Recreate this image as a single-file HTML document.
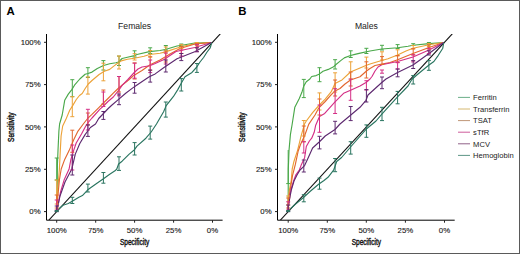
<!DOCTYPE html>
<html><head><meta charset="utf-8"><style>
html,body{margin:0;padding:0;background:#fff;width:520px;height:254px;overflow:hidden}
svg{display:block}
text{font-family:"Liberation Sans", sans-serif}
.t{font-size:7.8px;fill:#1a1a1a;stroke:#1a1a1a;stroke-width:0.12px}
.ti{font-size:9.4px;fill:#222}
.ax{font-size:8.9px;fill:#111;stroke:#111;stroke-width:0.4px}
.lab{font-size:11.4px;font-weight:bold;fill:#000}
.lg{font-size:7.6px;fill:#222}
</style></head><body>
<svg width="520" height="254" viewBox="0 0 520 254">
<rect x="0" y="0" width="520" height="254" fill="#fff"/>
<text x="6.6" y="14.7" class="lab">A</text>
<text x="238.2" y="14.7" class="lab">B</text>
<clipPath id="c46"><rect x="46.5" y="34" width="176.1" height="186"/></clipPath>
<g clip-path="url(#c46)">
<line x1="48.9" y1="220.1" x2="220.3" y2="33.8" stroke="#111" stroke-width="1.05"/>
<polyline points="56.7,211.6 57.0,200.0 57.3,178.0 57.4,165.0 58.0,150.6 58.9,131.0 59.6,124.0 62.2,115.0 64.7,100.3 68.3,94.1 71.8,89.6 74.5,85.2 79.8,79.0 85.1,74.3 88.0,73.5 92.0,72.1 97.3,68.5 103.5,65.5 109.7,63.8 115.9,62.7 118.6,62.0 122.1,58.5 127.4,57.2 134.5,55.6 137.0,54.5 149.4,51.6 160.0,50.5 165.3,49.5 177.0,46.0 182.0,45.3 194.7,43.0 211.5,42.5" fill="none" stroke="#4aa84a" stroke-width="1.15" stroke-linejoin="round"/>
<polyline points="56.7,211.6 57.0,204.4 58.0,186.7 59.4,169.0 60.3,150.6 61.1,136.0 62.7,126.0 65.8,119.6 69.7,110.2 72.7,105.6 76.3,99.5 79.5,95.5 82.2,93.5 85.2,88.5 88.3,84.0 92.0,80.5 99.1,74.5 104.4,71.2 109.7,69.4 114.1,65.9 118.6,62.5 122.1,60.6 127.4,59.2 134.5,58.2 144.0,56.2 149.7,54.5 160.0,53.2 165.3,51.9 182.0,46.5 194.7,43.8 211.5,42.5" fill="none" stroke="#eca238" stroke-width="1.15" stroke-linejoin="round"/>
<polyline points="56.7,211.6 57.5,200.0 59.4,180.0 61.2,169.0 64.7,159.4 69.1,150.6 73.6,140.0 78.0,131.1 83.3,124.0 88.0,118.0 92.0,114.4 99.1,107.3 104.4,102.0 108.0,98.5 113.3,93.2 118.6,88.0 124.8,83.0 129.2,79.5 133.8,75.4 142.0,70.5 149.7,65.0 160.0,60.0 170.0,54.0 180.0,48.5 195.0,44.0 211.5,42.5" fill="none" stroke="#e2672f" stroke-width="1.15" stroke-linejoin="round"/>
<polyline points="56.7,211.6 60.6,191.7 64.3,179.4 69.1,169.0 70.9,159.4 73.6,150.6 76.2,143.0 81.5,134.0 85.5,126.5 88.2,122.5 92.0,118.0 100.0,109.1 103.5,106.0 108.0,101.5 113.3,97.0 118.6,90.3 122.1,85.4 127.9,79.5 133.8,73.0 138.0,69.0 142.0,67.0 149.7,65.8 155.2,63.5 164.0,59.5 176.0,51.5 194.7,47.5 211.5,42.5" fill="none" stroke="#d42f86" stroke-width="1.15" stroke-linejoin="round"/>
<polyline points="56.7,211.6 60.0,196.0 65.0,182.0 71.8,169.0 75.3,154.1 79.8,143.5 85.1,134.6 90.4,127.5 95.5,124.0 98.7,118.5 103.5,113.5 108.2,108.5 112.0,105.0 118.6,99.4 125.7,93.2 132.8,87.9 137.0,85.0 145.9,79.0 149.7,76.6 155.2,73.9 164.0,67.5 177.0,58.8 194.7,51.7 211.5,42.5" fill="none" stroke="#5e2a70" stroke-width="1.15" stroke-linejoin="round"/>
<polyline points="56.7,211.6 57.0,210.6 63.0,205.3 68.3,203.5 72.7,200.9 78.9,197.3 82.4,195.6 87.8,189.8 92.0,186.8 99.1,181.8 103.5,178.7 109.7,174.3 115.0,170.8 116.8,169.0 118.6,164.0 122.1,161.2 129.2,154.1 134.5,149.7 137.0,146.1 145.9,138.2 151.2,132.0 156.5,124.0 163.6,111.8 166.2,105.6 173.3,96.7 177.8,89.6 181.4,83.0 185.0,76.8 192.0,72.4 196.8,67.0 200.0,62.0 203.6,57.5 206.7,52.5 210.2,47.8 211.5,43.5 211.5,42.5" fill="none" stroke="#2a7560" stroke-width="1.15" stroke-linejoin="round"/>
<path d="M56.7,158.0V180.0M54.7,158.0H58.7M54.7,180.0H58.7" stroke="#4aa84a" stroke-width="1.0" fill="none"/>
<path d="M72.3,79.7V96.7M70.3,79.7H74.3M70.3,96.7H74.3" stroke="#4aa84a" stroke-width="1.0" fill="none"/>
<path d="M87.9,67.7V77.5M85.9,67.7H89.9M85.9,77.5H89.9" stroke="#4aa84a" stroke-width="1.0" fill="none"/>
<path d="M103.4,60.6V70.0M101.4,60.6H105.4M101.4,70.0H105.4" stroke="#4aa84a" stroke-width="1.0" fill="none"/>
<path d="M119.0,56.1V65.5M117.0,56.1H121.0M117.0,65.5H121.0" stroke="#4aa84a" stroke-width="1.0" fill="none"/>
<path d="M134.6,50.8V57.0M132.6,50.8H136.6M132.6,57.0H136.6" stroke="#4aa84a" stroke-width="1.0" fill="none"/>
<path d="M150.2,47.8V53.5M148.2,47.8H152.2M148.2,53.5H152.2" stroke="#4aa84a" stroke-width="1.0" fill="none"/>
<path d="M165.8,45.5V50.0M163.8,45.5H167.8M163.8,50.0H167.8" stroke="#4aa84a" stroke-width="1.0" fill="none"/>
<path d="M181.3,44.0V46.5M179.3,44.0H183.3M179.3,46.5H183.3" stroke="#4aa84a" stroke-width="1.0" fill="none"/>
<path d="M196.9,42.5V44.5M194.9,42.5H198.9M194.9,44.5H198.9" stroke="#4aa84a" stroke-width="1.0" fill="none"/>
<path d="M56.7,180.0V204.0M54.7,180.0H58.7M54.7,204.0H58.7" stroke="#eca238" stroke-width="1.0" fill="none"/>
<path d="M72.3,96.7V116.7M70.3,96.7H74.3M70.3,116.7H74.3" stroke="#eca238" stroke-width="1.0" fill="none"/>
<path d="M87.9,76.9V94.1M85.9,76.9H89.9M85.9,94.1H89.9" stroke="#eca238" stroke-width="1.0" fill="none"/>
<path d="M103.4,63.2V80.8M101.4,63.2H105.4M101.4,80.8H105.4" stroke="#eca238" stroke-width="1.0" fill="none"/>
<path d="M119.0,56.0V69.0M117.0,56.0H121.0M117.0,69.0H121.0" stroke="#eca238" stroke-width="1.0" fill="none"/>
<path d="M134.6,53.7V60.0M132.6,53.7H136.6M132.6,60.0H136.6" stroke="#eca238" stroke-width="1.0" fill="none"/>
<path d="M150.2,50.5V57.0M148.2,50.5H152.2M148.2,57.0H152.2" stroke="#eca238" stroke-width="1.0" fill="none"/>
<path d="M165.8,47.0V53.0M163.8,47.0H167.8M163.8,53.0H167.8" stroke="#eca238" stroke-width="1.0" fill="none"/>
<path d="M181.3,44.6V48.5M179.3,44.6H183.3M179.3,48.5H183.3" stroke="#eca238" stroke-width="1.0" fill="none"/>
<path d="M196.9,42.5V45.5M194.9,42.5H198.9M194.9,45.5H198.9" stroke="#eca238" stroke-width="1.0" fill="none"/>
<path d="M56.7,195.0V208.0M54.7,195.0H58.7M54.7,208.0H58.7" stroke="#e2672f" stroke-width="1.0" fill="none"/>
<path d="M72.3,130.2V152.3M70.3,130.2H74.3M70.3,152.3H74.3" stroke="#e2672f" stroke-width="1.0" fill="none"/>
<path d="M87.9,113.0V125.0M85.9,113.0H89.9M85.9,125.0H89.9" stroke="#e2672f" stroke-width="1.0" fill="none"/>
<path d="M103.4,90.0V104.0M101.4,90.0H105.4M101.4,104.0H105.4" stroke="#e2672f" stroke-width="1.0" fill="none"/>
<path d="M119.0,76.5V92.0M117.0,76.5H121.0M117.0,92.0H121.0" stroke="#e2672f" stroke-width="1.0" fill="none"/>
<path d="M134.6,62.9V79.0M132.6,62.9H136.6M132.6,79.0H136.6" stroke="#e2672f" stroke-width="1.0" fill="none"/>
<path d="M150.2,56.8V70.3M148.2,56.8H152.2M148.2,70.3H152.2" stroke="#e2672f" stroke-width="1.0" fill="none"/>
<path d="M165.8,51.0V62.0M163.8,51.0H167.8M163.8,62.0H167.8" stroke="#e2672f" stroke-width="1.0" fill="none"/>
<path d="M181.3,46.5V53.5M179.3,46.5H183.3M179.3,53.5H183.3" stroke="#e2672f" stroke-width="1.0" fill="none"/>
<path d="M196.9,43.5V47.8M194.9,43.5H198.9M194.9,47.8H198.9" stroke="#e2672f" stroke-width="1.0" fill="none"/>
<path d="M56.7,200.0V210.0M54.7,200.0H58.7M54.7,210.0H58.7" stroke="#d42f86" stroke-width="1.0" fill="none"/>
<path d="M72.3,145.0V170.0M70.3,145.0H74.3M70.3,170.0H74.3" stroke="#d42f86" stroke-width="1.0" fill="none"/>
<path d="M87.9,109.3V130.0M85.9,109.3H89.9M85.9,130.0H89.9" stroke="#d42f86" stroke-width="1.0" fill="none"/>
<path d="M103.4,92.0V106.5M101.4,92.0H105.4M101.4,106.5H105.4" stroke="#d42f86" stroke-width="1.0" fill="none"/>
<path d="M119.0,76.5V95.8M117.0,76.5H121.0M117.0,95.8H121.0" stroke="#d42f86" stroke-width="1.0" fill="none"/>
<path d="M134.6,63.2V78.2M132.6,63.2H136.6M132.6,78.2H136.6" stroke="#d42f86" stroke-width="1.0" fill="none"/>
<path d="M150.2,60.0V72.6M148.2,60.0H152.2M148.2,72.6H152.2" stroke="#d42f86" stroke-width="1.0" fill="none"/>
<path d="M165.8,53.0V64.0M163.8,53.0H167.8M163.8,64.0H167.8" stroke="#d42f86" stroke-width="1.0" fill="none"/>
<path d="M181.3,50.0V56.1M179.3,50.0H183.3M179.3,56.1H183.3" stroke="#d42f86" stroke-width="1.0" fill="none"/>
<path d="M196.9,44.6V51.7M194.9,44.6H198.9M194.9,51.7H198.9" stroke="#d42f86" stroke-width="1.0" fill="none"/>
<path d="M56.7,206.0V211.6M54.7,206.0H58.7M54.7,211.6H58.7" stroke="#5e2a70" stroke-width="1.0" fill="none"/>
<path d="M72.3,155.0V175.0M70.3,155.0H74.3M70.3,175.0H74.3" stroke="#5e2a70" stroke-width="1.0" fill="none"/>
<path d="M87.9,124.9V136.4M85.9,124.9H89.9M85.9,136.4H89.9" stroke="#5e2a70" stroke-width="1.0" fill="none"/>
<path d="M103.4,111.5V119.4M101.4,111.5H105.4M101.4,119.4H105.4" stroke="#5e2a70" stroke-width="1.0" fill="none"/>
<path d="M119.0,94.0V104.7M117.0,94.0H121.0M117.0,104.7H121.0" stroke="#5e2a70" stroke-width="1.0" fill="none"/>
<path d="M134.6,82.5V93.2M132.6,82.5H136.6M132.6,93.2H136.6" stroke="#5e2a70" stroke-width="1.0" fill="none"/>
<path d="M150.2,70.0V82.1M148.2,70.0H152.2M148.2,82.1H152.2" stroke="#5e2a70" stroke-width="1.0" fill="none"/>
<path d="M165.8,60.0V72.0M163.8,60.0H167.8M163.8,72.0H167.8" stroke="#5e2a70" stroke-width="1.0" fill="none"/>
<path d="M181.3,53.5V60.6M179.3,53.5H183.3M179.3,60.6H183.3" stroke="#5e2a70" stroke-width="1.0" fill="none"/>
<path d="M196.9,47.8V51.7M194.9,47.8H198.9M194.9,51.7H198.9" stroke="#5e2a70" stroke-width="1.0" fill="none"/>
<path d="M56.7,210.5V211.6M54.7,210.5H58.7M54.7,211.6H58.7" stroke="#2a7560" stroke-width="1.0" fill="none"/>
<path d="M72.3,197.3V203.5M70.3,197.3H74.3M70.3,203.5H74.3" stroke="#2a7560" stroke-width="1.0" fill="none"/>
<path d="M87.9,184.1V192.0M85.9,184.1H89.9M85.9,192.0H89.9" stroke="#2a7560" stroke-width="1.0" fill="none"/>
<path d="M103.4,172.5V183.2M101.4,172.5H105.4M101.4,183.2H105.4" stroke="#2a7560" stroke-width="1.0" fill="none"/>
<path d="M119.0,156.8V170.4M117.0,156.8H121.0M117.0,170.4H121.0" stroke="#2a7560" stroke-width="1.0" fill="none"/>
<path d="M134.6,142.6V155.0M132.6,142.6H136.6M132.6,155.0H136.6" stroke="#2a7560" stroke-width="1.0" fill="none"/>
<path d="M150.2,126.1V139.1M148.2,126.1H152.2M148.2,139.1H152.2" stroke="#2a7560" stroke-width="1.0" fill="none"/>
<path d="M165.8,102.0V117.1M163.8,102.0H167.8M163.8,117.1H167.8" stroke="#2a7560" stroke-width="1.0" fill="none"/>
<path d="M181.3,78.6V91.0M179.3,78.6H183.3M179.3,91.0H183.3" stroke="#2a7560" stroke-width="1.0" fill="none"/>
<path d="M196.9,63.5V72.4M194.9,63.5H198.9M194.9,72.4H198.9" stroke="#2a7560" stroke-width="1.0" fill="none"/>
</g>
<path d="M46.5,34V220.2H222.6" stroke="#000" stroke-width="1" fill="none"/>
<line x1="44.0" y1="42.3" x2="46.5" y2="42.3" stroke="#222" stroke-width="1"/>
<text x="40.6" y="44.9" text-anchor="end" class="t">100%</text>
<line x1="56.7" y1="220.2" x2="56.7" y2="222.7" stroke="#222" stroke-width="1"/>
<text x="56.7" y="232.6" text-anchor="middle" class="t">100%</text>
<line x1="44.0" y1="84.6" x2="46.5" y2="84.6" stroke="#222" stroke-width="1"/>
<text x="40.6" y="87.2" text-anchor="end" class="t">75%</text>
<line x1="95.7" y1="220.2" x2="95.7" y2="222.7" stroke="#222" stroke-width="1"/>
<text x="95.7" y="232.6" text-anchor="middle" class="t">75%</text>
<line x1="44.0" y1="126.9" x2="46.5" y2="126.9" stroke="#222" stroke-width="1"/>
<text x="40.6" y="129.5" text-anchor="end" class="t">50%</text>
<line x1="134.6" y1="220.2" x2="134.6" y2="222.7" stroke="#222" stroke-width="1"/>
<text x="134.6" y="232.6" text-anchor="middle" class="t">50%</text>
<line x1="44.0" y1="169.3" x2="46.5" y2="169.3" stroke="#222" stroke-width="1"/>
<text x="40.6" y="171.9" text-anchor="end" class="t">25%</text>
<line x1="173.6" y1="220.2" x2="173.6" y2="222.7" stroke="#222" stroke-width="1"/>
<text x="173.6" y="232.6" text-anchor="middle" class="t">25%</text>
<line x1="44.0" y1="211.6" x2="46.5" y2="211.6" stroke="#222" stroke-width="1"/>
<text x="40.6" y="214.2" text-anchor="end" class="t">0%</text>
<line x1="212.5" y1="220.2" x2="212.5" y2="222.7" stroke="#222" stroke-width="1"/>
<text x="212.5" y="232.6" text-anchor="middle" class="t">0%</text>
<text x="0" y="0" transform="translate(134.6,28.5) scale(0.92,1)" text-anchor="middle" class="ti">Females</text>
<text x="0" y="0" transform="translate(134.6,245.4) scale(0.735,1)" text-anchor="middle" class="ax">Specificity</text>
<text x="0" y="0" transform="translate(14.2,127.2) rotate(-90) scale(0.735,1)" text-anchor="middle" class="ax">Sensitivity</text>
<clipPath id="c277"><rect x="277.5" y="34" width="177.2" height="186"/></clipPath>
<g clip-path="url(#c277)">
<line x1="280.4" y1="220.1" x2="452.3" y2="33.8" stroke="#111" stroke-width="1.05"/>
<polyline points="288.2,211.6 288.2,200.0 288.3,169.0 289.0,150.6 290.4,134.6 292.2,124.0 294.8,107.3 299.3,98.5 301.9,92.3 303.7,86.1 306.3,81.7 309.9,79.0 311.7,76.5 316.1,75.6 319.6,73.9 323.0,71.2 328.3,69.4 333.6,66.8 335.4,65.0 340.7,60.6 344.3,57.9 350.5,55.5 354.9,54.4 360.2,53.1 370.0,51.0 381.8,49.0 397.6,47.8 408.0,46.3 413.0,45.2 429.0,43.6 443.7,42.5" fill="none" stroke="#4aa84a" stroke-width="1.15" stroke-linejoin="round"/>
<polyline points="288.2,211.6 288.2,205.0 289.0,192.0 291.3,180.0 292.2,169.0 294.0,161.2 297.5,150.6 301.0,136.4 304.5,124.0 306.3,121.0 312.6,112.6 318.9,105.5 325.2,99.2 331.5,91.3 335.0,83.5 342.0,79.9 350.5,72.0 360.0,68.0 366.5,65.2 370.0,64.0 380.0,61.0 388.0,58.8 397.6,55.0 406.0,51.0 413.0,48.2 429.0,44.8 443.7,42.5" fill="none" stroke="#eca238" stroke-width="1.15" stroke-linejoin="round"/>
<polyline points="288.2,211.6 289.0,197.3 291.3,183.2 292.5,175.6 295.4,164.2 298.2,151.0 300.5,144.5 304.7,135.5 308.7,124.4 315.0,115.0 318.9,107.8 325.2,101.5 331.5,94.4 335.0,91.0 340.0,88.5 345.0,84.0 350.5,80.0 360.0,76.8 366.5,71.0 370.0,68.5 375.0,65.5 381.8,64.1 390.0,62.5 397.6,59.7 413.0,53.5 429.0,47.5 443.7,42.5" fill="none" stroke="#e2672f" stroke-width="1.15" stroke-linejoin="round"/>
<polyline points="288.2,211.6 288.5,205.0 290.0,195.0 291.3,188.5 294.0,179.6 295.7,175.2 299.3,170.0 301.0,165.6 304.6,157.7 306.3,146.5 309.4,141.0 311.7,138.2 314.2,132.3 315.7,125.2 319.5,116.5 324.7,113.4 329.4,108.1 334.8,102.2 339.5,97.4 343.6,93.3 350.0,90.4 360.0,86.0 366.0,82.5 370.0,79.0 372.0,76.5 375.0,71.0 378.0,67.0 381.8,64.8 397.6,61.5 413.0,57.0 429.0,50.0 443.7,42.5" fill="none" stroke="#d42f86" stroke-width="1.15" stroke-linejoin="round"/>
<polyline points="288.2,211.6 288.5,205.0 291.3,190.0 294.0,181.0 297.0,175.0 300.0,170.0 304.6,165.6 308.1,158.0 312.6,148.0 319.2,142.0 325.2,136.0 335.0,129.5 340.0,124.0 350.5,115.3 360.0,107.3 366.0,100.3 368.0,95.0 381.8,82.5 386.0,79.0 397.6,72.5 413.0,65.0 429.0,53.5 443.7,42.5" fill="none" stroke="#5e2a70" stroke-width="1.15" stroke-linejoin="round"/>
<polyline points="288.2,211.6 288.7,210.4 295.0,204.5 302.9,198.0 310.0,191.5 318.6,184.3 324.0,180.5 328.0,177.3 333.6,170.2 336.7,161.5 341.6,157.5 351.0,146.5 366.0,129.3 376.0,121.0 382.3,113.6 397.3,97.2 408.0,86.0 411.8,79.5 417.1,74.8 429.0,65.0 433.9,61.5 438.3,55.3 442.8,48.2 443.7,42.5" fill="none" stroke="#2a7560" stroke-width="1.15" stroke-linejoin="round"/>
<path d="M288.2,150.0V183.6M286.2,183.6H290.2" stroke="#4aa84a" stroke-width="1.0" fill="none"/>
<path d="M303.8,79.4V97.6M301.8,79.4H305.8M301.8,97.6H305.8" stroke="#4aa84a" stroke-width="1.0" fill="none"/>
<path d="M319.5,67.7V81.7M317.5,67.7H321.5M317.5,81.7H321.5" stroke="#4aa84a" stroke-width="1.0" fill="none"/>
<path d="M335.1,59.7V69.0M333.1,59.7H337.1M333.1,69.0H337.1" stroke="#4aa84a" stroke-width="1.0" fill="none"/>
<path d="M350.7,50.8V57.5M348.7,50.8H352.7M348.7,57.5H352.7" stroke="#4aa84a" stroke-width="1.0" fill="none"/>
<path d="M366.4,48.3V53.5M364.4,48.3H368.4M364.4,53.5H368.4" stroke="#4aa84a" stroke-width="1.0" fill="none"/>
<path d="M382.0,45.3V50.0M380.0,45.3H384.0M380.0,50.0H384.0" stroke="#4aa84a" stroke-width="1.0" fill="none"/>
<path d="M397.6,44.6V48.5M395.6,44.6H399.6M395.6,48.5H399.6" stroke="#4aa84a" stroke-width="1.0" fill="none"/>
<path d="M413.2,43.7V45.5M411.2,43.7H415.2M411.2,45.5H415.2" stroke="#4aa84a" stroke-width="1.0" fill="none"/>
<path d="M428.9,42.5V44.0M426.9,42.5H430.9M426.9,44.0H430.9" stroke="#4aa84a" stroke-width="1.0" fill="none"/>
<path d="M288.2,196.0V205.0M286.2,196.0H290.2M286.2,205.0H290.2" stroke="#eca238" stroke-width="1.0" fill="none"/>
<path d="M303.8,120.5V136.0M301.8,120.5H305.8M301.8,136.0H305.8" stroke="#eca238" stroke-width="1.0" fill="none"/>
<path d="M319.5,92.9V110.0M317.5,92.9H321.5M317.5,110.0H321.5" stroke="#eca238" stroke-width="1.0" fill="none"/>
<path d="M335.1,72.8V92.0M333.1,72.8H337.1M333.1,92.0H337.1" stroke="#eca238" stroke-width="1.0" fill="none"/>
<path d="M350.7,61.8V79.0M348.7,61.8H352.7M348.7,79.0H352.7" stroke="#eca238" stroke-width="1.0" fill="none"/>
<path d="M366.4,57.1V68.0M364.4,57.1H368.4M364.4,68.0H368.4" stroke="#eca238" stroke-width="1.0" fill="none"/>
<path d="M382.0,51.8V60.0M380.0,51.8H384.0M380.0,60.0H384.0" stroke="#eca238" stroke-width="1.0" fill="none"/>
<path d="M397.6,49.8V56.0M395.6,49.8H399.6M395.6,56.0H399.6" stroke="#eca238" stroke-width="1.0" fill="none"/>
<path d="M413.2,45.5V49.0M411.2,45.5H415.2M411.2,49.0H415.2" stroke="#eca238" stroke-width="1.0" fill="none"/>
<path d="M428.9,43.5V46.5M426.9,43.5H430.9M426.9,46.5H430.9" stroke="#eca238" stroke-width="1.0" fill="none"/>
<path d="M288.2,198.0V208.0M286.2,198.0H290.2M286.2,208.0H290.2" stroke="#e2672f" stroke-width="1.0" fill="none"/>
<path d="M303.8,126.0V141.8M301.8,126.0H305.8M301.8,141.8H305.8" stroke="#e2672f" stroke-width="1.0" fill="none"/>
<path d="M319.5,99.0V115.0M317.5,99.0H321.5M317.5,115.0H321.5" stroke="#e2672f" stroke-width="1.0" fill="none"/>
<path d="M335.1,80.0V96.0M333.1,80.0H337.1M333.1,96.0H337.1" stroke="#e2672f" stroke-width="1.0" fill="none"/>
<path d="M350.7,72.0V86.0M348.7,72.0H352.7M348.7,86.0H352.7" stroke="#e2672f" stroke-width="1.0" fill="none"/>
<path d="M366.4,61.8V78.0M364.4,61.8H368.4M364.4,78.0H368.4" stroke="#e2672f" stroke-width="1.0" fill="none"/>
<path d="M382.0,56.6V64.5M380.0,56.6H384.0M380.0,64.5H384.0" stroke="#e2672f" stroke-width="1.0" fill="none"/>
<path d="M397.6,55.5V62.6M395.6,55.5H399.6M395.6,62.6H399.6" stroke="#e2672f" stroke-width="1.0" fill="none"/>
<path d="M413.2,48.7V55.0M411.2,48.7H415.2M411.2,55.0H415.2" stroke="#e2672f" stroke-width="1.0" fill="none"/>
<path d="M428.9,45.0V49.0M426.9,45.0H430.9M426.9,49.0H430.9" stroke="#e2672f" stroke-width="1.0" fill="none"/>
<path d="M288.2,201.8V210.0M286.2,201.8H290.2M286.2,210.0H290.2" stroke="#d42f86" stroke-width="1.0" fill="none"/>
<path d="M303.8,141.7V153.0M301.8,141.7H305.8M301.8,153.0H305.8" stroke="#d42f86" stroke-width="1.0" fill="none"/>
<path d="M319.5,105.0V132.3M317.5,105.0H321.5M317.5,132.3H321.5" stroke="#d42f86" stroke-width="1.0" fill="none"/>
<path d="M335.1,88.7V113.5M333.1,88.7H337.1M333.1,113.5H337.1" stroke="#d42f86" stroke-width="1.0" fill="none"/>
<path d="M350.7,79.1V100.3M348.7,79.1H352.7M348.7,100.3H352.7" stroke="#d42f86" stroke-width="1.0" fill="none"/>
<path d="M366.4,80.7V90.0M364.4,80.7H368.4M364.4,90.0H368.4" stroke="#d42f86" stroke-width="1.0" fill="none"/>
<path d="M382.0,70.0V73.2M380.0,70.0H384.0M380.0,73.2H384.0" stroke="#d42f86" stroke-width="1.0" fill="none"/>
<path d="M397.6,62.6V69.0M395.6,62.6H399.6M395.6,69.0H399.6" stroke="#d42f86" stroke-width="1.0" fill="none"/>
<path d="M413.2,54.7V61.9M411.2,54.7H415.2M411.2,61.9H415.2" stroke="#d42f86" stroke-width="1.0" fill="none"/>
<path d="M428.9,48.2V53.5M426.9,48.2H430.9M426.9,53.5H430.9" stroke="#d42f86" stroke-width="1.0" fill="none"/>
<path d="M288.2,205.0V211.6M286.2,205.0H290.2M286.2,211.6H290.2" stroke="#5e2a70" stroke-width="1.0" fill="none"/>
<path d="M303.8,160.0V172.0M301.8,160.0H305.8M301.8,172.0H305.8" stroke="#5e2a70" stroke-width="1.0" fill="none"/>
<path d="M319.5,136.3V148.9M317.5,136.3H321.5M317.5,148.9H321.5" stroke="#5e2a70" stroke-width="1.0" fill="none"/>
<path d="M335.1,121.3V133.9M333.1,121.3H337.1M333.1,133.9H337.1" stroke="#5e2a70" stroke-width="1.0" fill="none"/>
<path d="M350.7,106.5V120.6M348.7,106.5H352.7M348.7,120.6H352.7" stroke="#5e2a70" stroke-width="1.0" fill="none"/>
<path d="M366.4,89.6V102.0M364.4,89.6H368.4M364.4,102.0H368.4" stroke="#5e2a70" stroke-width="1.0" fill="none"/>
<path d="M382.0,77.0V88.7M380.0,77.0H384.0M380.0,88.7H384.0" stroke="#5e2a70" stroke-width="1.0" fill="none"/>
<path d="M397.6,69.0V76.8M395.6,69.0H399.6M395.6,76.8H399.6" stroke="#5e2a70" stroke-width="1.0" fill="none"/>
<path d="M413.2,60.6V68.5M411.2,60.6H415.2M411.2,68.5H415.2" stroke="#5e2a70" stroke-width="1.0" fill="none"/>
<path d="M428.9,50.8V55.0M426.9,50.8H430.9M426.9,55.0H430.9" stroke="#5e2a70" stroke-width="1.0" fill="none"/>
<path d="M288.2,210.5V211.6M286.2,210.5H290.2M286.2,211.6H290.2" stroke="#2a7560" stroke-width="1.0" fill="none"/>
<path d="M303.8,194.7V201.8M301.8,194.7H305.8M301.8,201.8H305.8" stroke="#2a7560" stroke-width="1.0" fill="none"/>
<path d="M319.5,178.1V189.2M317.5,178.1H321.5M317.5,189.2H321.5" stroke="#2a7560" stroke-width="1.0" fill="none"/>
<path d="M335.1,158.5V171.7M333.1,158.5H337.1M333.1,171.7H337.1" stroke="#2a7560" stroke-width="1.0" fill="none"/>
<path d="M350.7,141.7V154.1M348.7,141.7H352.7M348.7,154.1H352.7" stroke="#2a7560" stroke-width="1.0" fill="none"/>
<path d="M366.4,124.9V137.3M364.4,124.9H368.4M364.4,137.3H368.4" stroke="#2a7560" stroke-width="1.0" fill="none"/>
<path d="M382.0,107.3V120.6M380.0,107.3H384.0M380.0,120.6H384.0" stroke="#2a7560" stroke-width="1.0" fill="none"/>
<path d="M397.6,91.4V103.8M395.6,91.4H399.6M395.6,103.8H399.6" stroke="#2a7560" stroke-width="1.0" fill="none"/>
<path d="M413.2,75.6V84.0M411.2,75.6H415.2M411.2,84.0H415.2" stroke="#2a7560" stroke-width="1.0" fill="none"/>
<path d="M428.9,60.6V70.3M426.9,60.6H430.9M426.9,70.3H430.9" stroke="#2a7560" stroke-width="1.0" fill="none"/>
</g>
<path d="M277.5,34V220.2H454.7" stroke="#000" stroke-width="1" fill="none"/>
<line x1="275.0" y1="42.3" x2="277.5" y2="42.3" stroke="#222" stroke-width="1"/>
<text x="271.6" y="44.9" text-anchor="end" class="t">100%</text>
<line x1="288.2" y1="220.2" x2="288.2" y2="222.7" stroke="#222" stroke-width="1"/>
<text x="288.2" y="232.6" text-anchor="middle" class="t">100%</text>
<line x1="275.0" y1="84.6" x2="277.5" y2="84.6" stroke="#222" stroke-width="1"/>
<text x="271.6" y="87.2" text-anchor="end" class="t">75%</text>
<line x1="327.3" y1="220.2" x2="327.3" y2="222.7" stroke="#222" stroke-width="1"/>
<text x="327.3" y="232.6" text-anchor="middle" class="t">75%</text>
<line x1="275.0" y1="126.9" x2="277.5" y2="126.9" stroke="#222" stroke-width="1"/>
<text x="271.6" y="129.5" text-anchor="end" class="t">50%</text>
<line x1="366.3" y1="220.2" x2="366.3" y2="222.7" stroke="#222" stroke-width="1"/>
<text x="366.3" y="232.6" text-anchor="middle" class="t">50%</text>
<line x1="275.0" y1="169.3" x2="277.5" y2="169.3" stroke="#222" stroke-width="1"/>
<text x="271.6" y="171.9" text-anchor="end" class="t">25%</text>
<line x1="405.4" y1="220.2" x2="405.4" y2="222.7" stroke="#222" stroke-width="1"/>
<text x="405.4" y="232.6" text-anchor="middle" class="t">25%</text>
<line x1="275.0" y1="211.6" x2="277.5" y2="211.6" stroke="#222" stroke-width="1"/>
<text x="271.6" y="214.2" text-anchor="end" class="t">0%</text>
<line x1="444.5" y1="220.2" x2="444.5" y2="222.7" stroke="#222" stroke-width="1"/>
<text x="444.5" y="232.6" text-anchor="middle" class="t">0%</text>
<text x="0" y="0" transform="translate(366.4,28.5) scale(0.92,1)" text-anchor="middle" class="ti">Males</text>
<text x="0" y="0" transform="translate(366.4,245.4) scale(0.735,1)" text-anchor="middle" class="ax">Specificity</text>
<text x="0" y="0" transform="translate(245.2,127.2) rotate(-90) scale(0.735,1)" text-anchor="middle" class="ax">Sensitivity</text>
<line x1="458" y1="97.4" x2="470" y2="97.4" stroke="#5aa57a" stroke-width="0.9"/><text x="473.1" y="100.1" class="lg">Ferritin</text><line x1="458" y1="109.0" x2="470" y2="109.0" stroke="#d0b060" stroke-width="0.9"/><text x="473.1" y="111.7" class="lg">Transferrin</text><line x1="458" y1="120.6" x2="470" y2="120.6" stroke="#b88a68" stroke-width="0.9"/><text x="473.1" y="123.3" class="lg">TSAT</text><line x1="458" y1="132.2" x2="470" y2="132.2" stroke="#c84a90" stroke-width="0.9"/><text x="473.1" y="134.9" class="lg">sTfR</text><line x1="458" y1="143.8" x2="470" y2="143.8" stroke="#84507a" stroke-width="0.9"/><text x="473.1" y="146.5" class="lg">MCV</text><line x1="458" y1="155.4" x2="470" y2="155.4" stroke="#4a8a78" stroke-width="0.9"/><text x="473.1" y="158.1" class="lg">Hemoglobin</text>
<rect x="0.5" y="0.5" width="519" height="253" fill="none" stroke="#5a5a5a" stroke-width="1"/>
</svg>
</body></html>
